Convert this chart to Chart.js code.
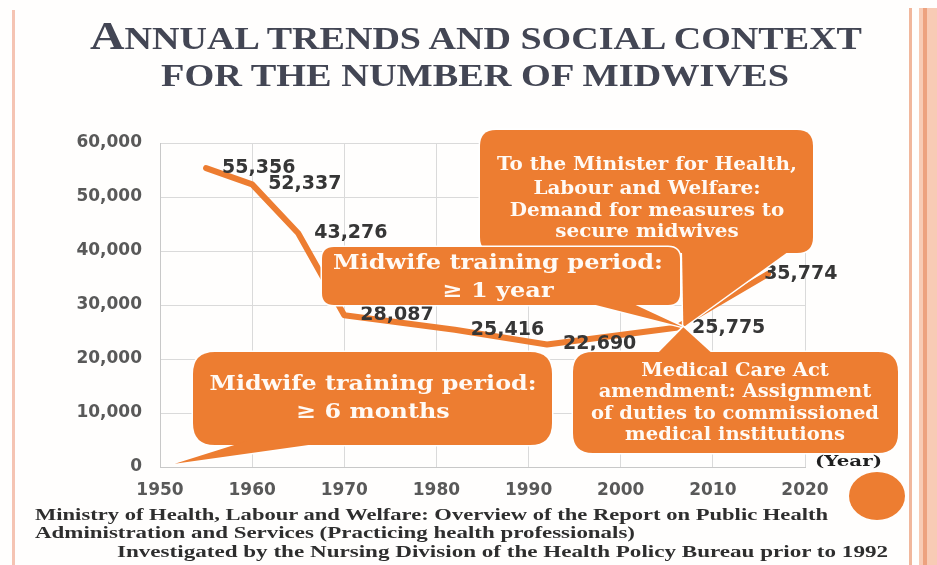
<!DOCTYPE html>
<html>
<head>
<meta charset="utf-8">
<script src="https://cdn.jsdelivr.net/npm/chart.js@4.4.1/dist/chart.umd.min.js"></script>
<style>
html,body{margin:0;padding:0;width:937px;height:565px;overflow:hidden;background:#fffefd;}
#c{position:absolute;left:0;top:0;}
.ln{position:absolute;white-space:nowrap;transform-origin:0 0;display:inline-block;}
.ttl{font-family:"Liberation Serif",serif;font-weight:bold;color:#434654;font-size:31px;line-height:1;}
.ttl .big{font-size:39px;}
.ft{font-family:"Liberation Serif",serif;font-weight:bold;color:#2e2e2e;font-size:16px;line-height:1;}
.yr{font-family:"DejaVu Serif",serif;color:#1f1f1f;font-size:15px;font-weight:bold;line-height:1;}
.bar{position:absolute;}
</style>
</head>
<body>
<canvas id="c" width="937" height="565"></canvas>

<div class="bar" style="left:12px;top:10px;width:3px;height:555px;background:#f5c4b3;"></div>
<div class="bar" style="left:909px;top:8px;width:3px;height:557px;background:#f1b79c;"></div>
<div class="bar" style="left:919px;top:8px;width:18px;height:557px;background:#f8cbb5;"></div>
<div class="bar" style="left:923px;top:8px;width:4px;height:557px;background:#eda27f;"></div>

<div class="ln ttl" id="t1" data-w="772" style="left:90px;top:16px;"><span class="big">A</span>NNUAL TRENDS AND SOCIAL CONTEXT</div>
<div class="ln ttl" id="t2" data-w="628" style="left:161px;top:60px;">FOR THE NUMBER OF MIDWIVES</div>

<div class="ln yr" data-w="67" style="left:815px;top:454px;">(Year)</div>

<div class="ln ft" data-w="793" style="left:35px;top:507px;">Ministry of Health, Labour and Welfare: Overview of the Report on Public Health</div>
<div class="ln ft" data-w="600" style="left:35px;top:525px;">Administration and Services (Practicing health professionals)</div>
<div class="ln ft" data-w="771" style="left:117px;top:544px;">Investigated by the Nursing Division of the Health Policy Bureau prior to 1992</div>

<script>
// ---- data ----
const years = [1955, 1960, 1965, 1970, 1982, 1992, 2006, 2016];
const midwives = [55356, 52337, 43276, 28087, 25416, 22690, 25775, 35774];
const yearTicks = [1950, 1960, 1970, 1980, 1990, 2000, 2010, 2020];
const countTicks = [0, 10000, 20000, 30000, 40000, 50000, 60000];

const ORANGE = '#ED7D31';

// fit HTML text lines to their measured widths
document.querySelectorAll('.ln[data-w]').forEach(el => {
  const w = el.getBoundingClientRect().width;
  el.style.transform = 'scaleX(' + (parseFloat(el.dataset.w) / w) + ')';
});

function rrPath(ctx, x0, y0, x1, y1, r) {
  ctx.beginPath();
  ctx.moveTo(x0 + r, y0);
  ctx.lineTo(x1 - r, y0);
  ctx.quadraticCurveTo(x1, y0, x1, y0 + r);
  ctx.lineTo(x1, y1 - r);
  ctx.quadraticCurveTo(x1, y1, x1 - r, y1);
  ctx.lineTo(x0 + r, y1);
  ctx.quadraticCurveTo(x0, y1, x0, y1 - r);
  ctx.lineTo(x0, y0 + r);
  ctx.quadraticCurveTo(x0, y0, x0 + r, y0);
  ctx.closePath();
}

const callouts = [
  { box: [193, 352, 552, 445], r: 22, base: [[247, 441], [337, 441]], tip: { x: 1951.6, y: 600 },
    lines: ['Midwife training period:', '\u2265 6 months'], cx: 373, ys: [385, 413],
    font: 'bold 21px "DejaVu Serif"', ref: 0, refW: 327 },
  { box: [480, 130, 813, 253], r: 16, base: [[682, 249], [792, 249]], tip: { x: 2006.8, y: 25900 },
    lines: ['To the Minister for Health,', 'Labour and Welfare:', 'Demand for measures to', 'secure midwives'],
    cx: 647, ys: [165, 189, 211, 232], font: 'bold 18px "DejaVu Serif"', ref: 0, refW: 300 },
  { box: [322, 247, 680, 305], r: 12, base: [[580, 301], [627, 301]], tip: { x: 2006.8, y: 25900 },
    lines: ['Midwife training period:', '\u2265 1 year'], cx: 498, ys: [264, 292],
    font: 'bold 21px "DejaVu Serif"', ref: 0, refW: 330 },
  { box: [573, 352, 898, 453], r: 20, base: [[655, 356], [715, 356]], tip: { x: 2006.8, y: 25900 },
    lines: ['Medical Care Act', 'amendment: Assignment', 'of duties to commissioned', 'medical institutions'],
    cx: 735, ys: [371, 392, 414, 435], font: 'bold 18px "DejaVu Serif"', ref: 2, refW: 288 }
];

const labelPlugin = {
  id: 'pointLabels',
  afterDatasetsDraw(chart) {
    const ctx = chart.ctx;
    const meta = chart.getDatasetMeta(0);
    ctx.save();
    ctx.font = 'bold 19px "DejaVu Sans"';
    ctx.fillStyle = '#363636';
    ctx.textAlign = 'left';
    ctx.textBaseline = 'middle';
    meta.data.forEach((pt, i) => {
      const dx = i === meta.data.length - 1 ? -4 : 16;
      ctx.fillText(midwives[i].toLocaleString('en-US'), pt.x + dx, pt.y);
    });
    ctx.restore();
  }
};

const calloutPlugin = {
  id: 'callouts',
  afterDatasetsDraw(chart) {
    const ctx = chart.ctx;
    const xs = chart.scales.x, ys = chart.scales.y;
    callouts.forEach(c => {
      const tx = xs.getPixelForValue(c.tip.x), ty = ys.getPixelForValue(c.tip.y);
      const [x0, y0, x1, y1] = c.box;
      const tri = () => {
        ctx.beginPath();
        ctx.moveTo(c.base[0][0], c.base[0][1]);
        ctx.lineTo(tx, ty);
        ctx.lineTo(c.base[1][0], c.base[1][1]);
        ctx.closePath();
      };
      ctx.save();
      ctx.strokeStyle = '#ffffff';
      ctx.lineWidth = 3;
      ctx.lineJoin = 'round';
      rrPath(ctx, x0, y0, x1, y1, c.r); ctx.stroke();
      tri(); ctx.stroke();
      ctx.fillStyle = ORANGE;
      rrPath(ctx, x0, y0, x1, y1, c.r); ctx.fill();
      tri(); ctx.fill();
      ctx.font = c.font;
      const s = c.refW / ctx.measureText(c.lines[c.ref]).width;
      ctx.fillStyle = '#fffaf5';
      ctx.textAlign = 'center';
      ctx.textBaseline = 'middle';
      c.lines.forEach((t, i) => {
        ctx.save();
        ctx.translate(c.cx, c.ys[i]);
        ctx.scale(s, 1);
        ctx.fillText(t, 0, 0);
        ctx.restore();
      });
      ctx.restore();
    });
  },
  afterDraw(chart) {
    const ctx = chart.ctx;
    ctx.save();
    ctx.fillStyle = ORANGE;
    ctx.beginPath();
    ctx.ellipse(877, 496, 28, 24, 0, 0, Math.PI * 2);
    ctx.fill();
    ctx.restore();
  }
};

new Chart(document.getElementById('c'), {
  type: 'line',
  data: {
    datasets: [{
      data: years.map((yr, i) => ({ x: yr, y: midwives[i] })),
      borderColor: ORANGE,
      borderWidth: 6,
      borderCapStyle: 'round',
      borderJoinStyle: 'round',
      pointRadius: 0,
      tension: 0,
      fill: false
    }]
  },
  options: {
    responsive: false,
    animation: false,
    layout: { padding: { left: 0, top: 143, right: 132, bottom: 58 } },
    plugins: { legend: { display: false }, tooltip: { enabled: false }, title: { display: false } },
    scales: {
      x: {
        type: 'linear', min: 1950, max: 2020,
        afterBuildTicks: s => { s.ticks = yearTicks.map(v => ({ value: v })); },
        afterFit: s => { s.height = 40; },
        ticks: { callback: v => String(v), color: '#595959', padding: 13,
                 font: { family: 'DejaVu Sans', weight: 'bold', size: 17 }, maxRotation: 0 },
        grid: { color: '#dadada', drawTicks: false },
        border: { color: '#c8c8c8' }
      },
      y: {
        min: 0, max: 60000,
        afterBuildTicks: s => { s.ticks = countTicks.map(v => ({ value: v })); },
        afterFit: s => { s.width = 160; },
        ticks: { callback: v => v.toLocaleString('en-US'), color: '#595959', padding: 18,
                 font: { family: 'DejaVu Sans', weight: 'bold', size: 17 } },
        grid: { color: '#dadada', drawTicks: false },
        border: { color: '#c8c8c8' }
      }
    }
  },
  plugins: [labelPlugin, calloutPlugin]
});
</script>
</body>
</html>
